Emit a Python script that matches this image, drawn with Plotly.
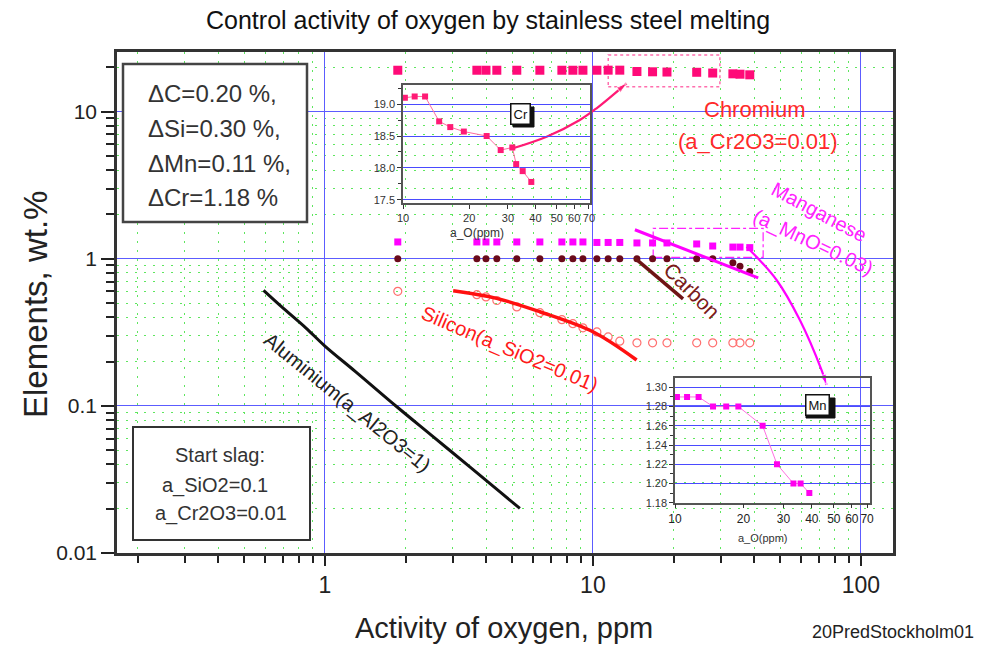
import plotly.graph_objects as go

W, H = 987, 646
L, R, T, B = 117, 893, 52, 553
FONT = "Liberation Sans, Arial, sans-serif"


def px(x):
    return (x - L) / (R - L)


def py(y):
    return (B - y) / (B - T)


# ---------------- data ----------------
a_O = [1.87, 3.69, 3.99, 4.38, 5.20, 6.34, 7.66, 8.42, 9.18, 10.35,
       11.4, 12.6, 14.6, 16.7, 18.9, 24.4, 28.0, 33.3, 35.4, 38.5]
cr_pct = [19.1, 19.1, 19.1, 19.1, 19.1, 19.1, 19.1, 19.1, 19.1, 19.10,
          19.12, 19.12, 18.73, 18.64, 18.57, 18.50, 18.28, 18.06, 17.95, 17.78]
mn_pct = [1.30, 1.30, 1.30, 1.30, 1.30, 1.30, 1.30, 1.30, 1.30, 1.29,
          1.29, 1.29, 1.28, 1.28, 1.28, 1.26, 1.22, 1.20, 1.20, 1.19]
c_pct = [1.0, 1.0, 1.0, 1.0, 1.0, 1.0, 1.0, 1.0, 1.0, 1.0,
         1.0, 1.0, 1.0, 1.0, 1.0, 1.0, 1.0, 0.94, 0.89, 0.82]
si_pct = [0.60, 0.57, 0.55, 0.52, 0.47, 0.43, 0.385, 0.362, 0.339, 0.318,
          0.294, 0.275, 0.268, 0.268, 0.268, 0.268, 0.268, 0.268, 0.268, 0.268]

# equilibrium lines
al_x = [0.59, 0.7, 0.85, 1.0, 1.3, 1.85, 2.5, 3.5, 4.5, 5.34]
al_y = [0.61, 0.46, 0.338, 0.255, 0.171, 0.099, 0.063, 0.038, 0.026, 0.0201]
si_x = [3.01, 4.37, 6.34, 10.0, 14.56]
si_y = [0.606, 0.538, 0.436, 0.319, 0.205]
c_x = [14.35, 21.7]
c_y = [1.01, 0.533]
mn_x = [14.35, 41.4]
mn_y = [1.574, 0.74]

# insets
cr_in_x = [10.2, 11.3, 12.6, 14.6, 16.4, 18.9, 24.0, 27.8, 31.4, 32.7, 35.0, 38.3]
cr_in_y = [19.10, 19.12, 19.12, 18.73, 18.64, 18.57, 18.50, 18.28, 18.32, 18.06, 17.95, 17.78]
mn_in_x = [10.2, 11.3, 12.7, 14.7, 16.8, 19.0, 24.3, 28.1, 33.2, 35.7, 39.0]
mn_in_y = [1.29, 1.29, 1.29, 1.28, 1.28, 1.28, 1.26, 1.22, 1.20, 1.20, 1.19]

# ticks
x_ticks = [1, 10, 100]
y_ticks = [0.01, 0.1, 1, 10]
inset_x_ticks = [10, 20, 30, 40, 50, 60, 70]
cr_in_ticks = [17.5, 18.0, 18.5, 19.0]
mn_in_ticks = [1.18, 1.20, 1.22, 1.24, 1.26, 1.28, 1.30]

# decorations (arrows / frames), in main-axis data units
cr_arrow_x = [5.03, 6.72, 8.94, 10.32, 13.36]
cr_arrow_y = [5.63, 6.75, 8.77, 10.53, 15.57]
mn_arrow_x = [37.45, 48.47, 59.21, 71.36, 74.47]
mn_arrow_y = [1.207, 0.717, 0.383, 0.175, 0.139]
cr_box = ([11.41, 29.78], [14.76, 24.24])
mn_box = ([16.79, 43.19], [1.022, 1.609])

x_minor = [k * d for d in (0.1, 1, 10) for k in range(2, 10)]
y_minor = [k * d for d in (0.01, 0.1, 1, 10) for k in range(2, 10) if k * d < 25]

fig = go.Figure()


def rect_xy(bx):
    (x0, x1), (y0, y1) = bx
    return [x0, x1, x1, x0, x0], [y0, y0, y1, y1, y0]


# frames
xr, yr = rect_xy(cr_box)
fig.add_trace(go.Scatter(x=xr, y=yr, mode="lines",
                         line=dict(color="#ff6fae", width=1.5, dash="dot")))
xr, yr = rect_xy(mn_box)
fig.add_trace(go.Scatter(x=xr, y=yr, mode="lines",
                         line=dict(color="#ff22ff", width=1.2, dash="dashdot")))

# main series
fig.add_trace(go.Scatter(x=al_x, y=al_y, mode="lines",
                         line=dict(color="#111111", width=3, shape="spline")))
fig.add_trace(go.Scatter(x=a_O, y=si_pct, mode="markers",
                         marker=dict(symbol="circle-open", size=8, color="#ff7070",
                                     line=dict(width=1.2, color="#ff7070"))))
fig.add_trace(go.Scatter(x=si_x, y=si_y, mode="lines",
                         line=dict(color="#ff1010", width=3.5, shape="spline")))
fig.add_trace(go.Scatter(x=a_O, y=c_pct, mode="markers",
                         marker=dict(symbol="circle", size=7, color="#6a0a1a")))
fig.add_trace(go.Scatter(x=c_x, y=c_y, mode="lines",
                         line=dict(color="#6e1414", width=3.5)))
fig.add_trace(go.Scatter(x=a_O, y=mn_pct, mode="markers",
                         marker=dict(symbol="square", size=7, color="#ff00ff")))
fig.add_trace(go.Scatter(x=mn_x, y=mn_y, mode="lines",
                         line=dict(color="#ff00ff", width=3)))
fig.add_trace(go.Scatter(x=a_O, y=cr_pct, mode="markers",
                         marker=dict(symbol="square", size=9, color="#ff0a78")))

# arrows
fig.add_trace(go.Scatter(x=cr_arrow_x, y=cr_arrow_y, mode="lines+markers",
                         line=dict(color="#ff1a75", width=2.2, shape="spline"),
                         marker=dict(symbol="arrow", angleref="previous",
                                     size=[0, 0, 0, 0, 11], color="#ff1a75")))
fig.add_trace(go.Scatter(x=mn_arrow_x, y=mn_arrow_y, mode="lines+markers",
                         line=dict(color="#ff00ff", width=2.2, shape="spline"),
                         marker=dict(symbol="arrow", angleref="previous",
                                     size=[0, 0, 0, 0, 11], color="#ff00ff")))

# insets
fig.add_trace(go.Scatter(x=cr_in_x, y=cr_in_y, mode="lines+markers", xaxis="x2", yaxis="y2",
                         line=dict(color="#ff6aa0", width=1),
                         marker=dict(symbol="square", size=6, color="#ff1a75")))
fig.add_trace(go.Scatter(x=mn_in_x, y=mn_in_y, mode="lines+markers", xaxis="x3", yaxis="y3",
                         line=dict(color="#ff70e0", width=1),
                         marker=dict(symbol="square", size=6, color="#ff00ee")))

minor_common = dict(ticks="outside", tickcolor="#222222", tickwidth=1.5, showgrid=True,
                    gridcolor="#5ee65e", griddash="2px,7px", gridwidth=1.2)

fig.update_layout(
    width=W, height=H, showlegend=False,
    margin=dict(l=L, r=W - R, t=T, b=H - B),
    paper_bgcolor="white", plot_bgcolor="rgba(0,0,0,0)",
    font=dict(family=FONT),
    xaxis=dict(type="log", range=[-0.776, 2.12], domain=[0, 1], anchor="y",
               tickvals=x_ticks, ticktext=[str(v) for v in x_ticks],
               ticks="outside", ticklen=10, tickwidth=1.5, tickcolor="#222222",
               showline=True, linewidth=2.5, linecolor="#333333", mirror=True,
               showgrid=True, gridcolor="#5c5cff", gridwidth=1.2, zeroline=False,
               tickfont=dict(family=FONT, size=23, color="#222222"),
               minor=dict(tickvals=x_minor, ticklen=7, **minor_common)),
    yaxis=dict(type="log", range=[-2.0, 1.405], domain=[0, 1], anchor="x",
               tickvals=y_ticks, ticktext=["0.01", "0.1", "1", "10"],
               ticks="outside", ticklen=13, tickwidth=1.5, tickcolor="#222222",
               showline=True, linewidth=2.5, linecolor="#333333", mirror=True,
               showgrid=True, gridcolor="#5c5cff", gridwidth=1.2, zeroline=False,
               tickfont=dict(family=FONT, size=21, color="#222222"),
               minor=dict(tickvals=y_minor, ticklen=8, **minor_common)),
    xaxis2=dict(type="log", range=[1, 1.85], domain=[px(403), px(590)], anchor="y2",
                tickvals=inset_x_ticks, ticktext=[str(v) for v in inset_x_ticks],
                tickangle=0,
                ticks="outside", ticklen=4, tickcolor="#333", showline=True, mirror=True,
                linecolor="#555555", linewidth=1.5, showgrid=False, zeroline=False,
                tickfont=dict(family=FONT, size=11, color="#333")),
    yaxis2=dict(range=[17.45, 19.3], domain=[py(203), py(85)], anchor="x2",
                tickvals=cr_in_ticks, ticktext=["%.1f" % v for v in cr_in_ticks],
                ticks="outside", ticklen=4, tickcolor="#333", showline=True, mirror=True,
                linecolor="#555555", linewidth=1.5, showgrid=True, gridcolor="#4a4aff",
                gridwidth=1, zeroline=False,
                tickfont=dict(family=FONT, size=11, color="#333"),
                minor=dict(tickvals=[17.75, 18.25, 18.75, 19.25], ticks="outside", ticklen=3,
                           tickcolor="#333")),
    xaxis3=dict(type="log", range=[1, 1.858], domain=[px(675), px(870)], anchor="y3",
                tickvals=inset_x_ticks, ticktext=[str(v) for v in inset_x_ticks],
                tickangle=0,
                ticks="outside", ticklen=4, tickcolor="#333", showline=True, mirror=True,
                linecolor="#555555", linewidth=1.5, showgrid=False, zeroline=False,
                tickfont=dict(family=FONT, size=12, color="#222")),
    yaxis3=dict(range=[1.18, 1.3097], domain=[py(502.7), py(378)], anchor="x3",
                tickvals=mn_in_ticks, ticktext=["%.2f" % v for v in mn_in_ticks],
                ticks="outside", ticklen=4, tickcolor="#333", showline=True, mirror=True,
                linecolor="#555555", linewidth=1.5, showgrid=True, gridcolor="#4a4aff",
                gridwidth=1, zeroline=False,
                tickfont=dict(family=FONT, size=11, color="#333"),
                minor=dict(tickvals=[1.19, 1.21, 1.23, 1.25, 1.27, 1.29], ticks="outside",
                           ticklen=3, tickcolor="#333")),
)

shapes = [
    dict(type="rect", xref="paper", yref="paper", x0=px(123), x1=px(307), y0=py(222), y1=py(64),
         line=dict(color="#444444", width=2.5), fillcolor="white", layer="above"),
    dict(type="rect", xref="paper", yref="paper", x0=px(133), x1=px(310), y0=py(540), y1=py(427),
         line=dict(color="#333333", width=2), fillcolor="white", layer="above"),
    # drop shadows of the small "Cr" / "Mn" tags
    dict(type="rect", xref="paper", yref="paper", x0=px(513), x1=px(534), y0=py(127), y1=py(107),
         line=dict(color="#111111", width=1), fillcolor="#111111", layer="above"),
    dict(type="rect", xref="paper", yref="paper", x0=px(806), x1=px(835), y0=py(418), y1=py(398),
         line=dict(color="#111111", width=1), fillcolor="#111111", layer="above"),
]
fig.update_layout(shapes=shapes)

ann = []


def text(x, y, s, size, color="#222222", angle=0, xanchor="center", **kw):
    ann.append(dict(x=px(x), y=py(y), xref="paper", yref="paper", text=s, showarrow=False,
                    xanchor=xanchor, yanchor="middle", textangle=angle,
                    font=dict(family=FONT, size=size, color=color), **kw))


text(488, 20, "Control activity of oxygen by stainless steel melting", 25, "#111111")
text(504, 628, "Activity of oxygen, ppm", 29, "#222222")
text(35, 305, "Elements, wt.%", 33, "#222222", angle=-90)
text(893, 632, "20PredStockholm01", 18, "#222222")

for s, yy in [("ΔC=0.20 %,", 93), ("ΔSi=0.30 %,", 128), ("ΔMn=0.11 %,", 163), ("ΔCr=1.18 %", 197)]:
    text(146, yy, s, 24, "#333333", xanchor="left")
for s, xx, yy in [("Start slag:", 220, 455), ("a_SiO2=0.1", 215, 485), ("a_Cr2O3=0.01", 221, 513)]:
    text(xx, yy, s, 20, "#333333")

text(754, 110, "Chromium", 22, "#ff2a2a")
text(758, 141, "(a_Cr2O3=0.01)", 22, "#ff2a2a")
text(819, 212, "Manganese", 20, "#ff22ff", angle=28)
text(813, 243, "(a_MnO=0.03)", 20, "#ff22ff", angle=25)
text(692, 290, "Carbon", 21, "#7a1a1a", angle=45)
text(510, 349, "Silicon(a_SiO2=0.01)", 20, "#ff1a1a", angle=23)
text(347, 402, "Aluminium(a_Al2O3=1)", 20, "#222222", angle=39)

text(477, 233, "a_O(ppm)", 12, "#333333")
text(763, 538, "a_O(ppm)", 11, "#333333")

for s, x, y, sz in [("Cr", 520, 114, 13), ("Mn", 817, 405, 13)]:
    ann.append(dict(x=px(x), y=py(y), xref="paper", yref="paper", text=s, showarrow=False,
                    xanchor="center", yanchor="middle",
                    bgcolor="white", bordercolor="#111111", borderwidth=1.5,
                    borderpad=2, font=dict(family=FONT, size=sz, color="#111111")))

fig.update_layout(annotations=ann)
fig.write_html("out.html", config={"displayModeBar": False},
               post_script="document.body.style.margin='0';document.body.style.overflow='hidden';")
